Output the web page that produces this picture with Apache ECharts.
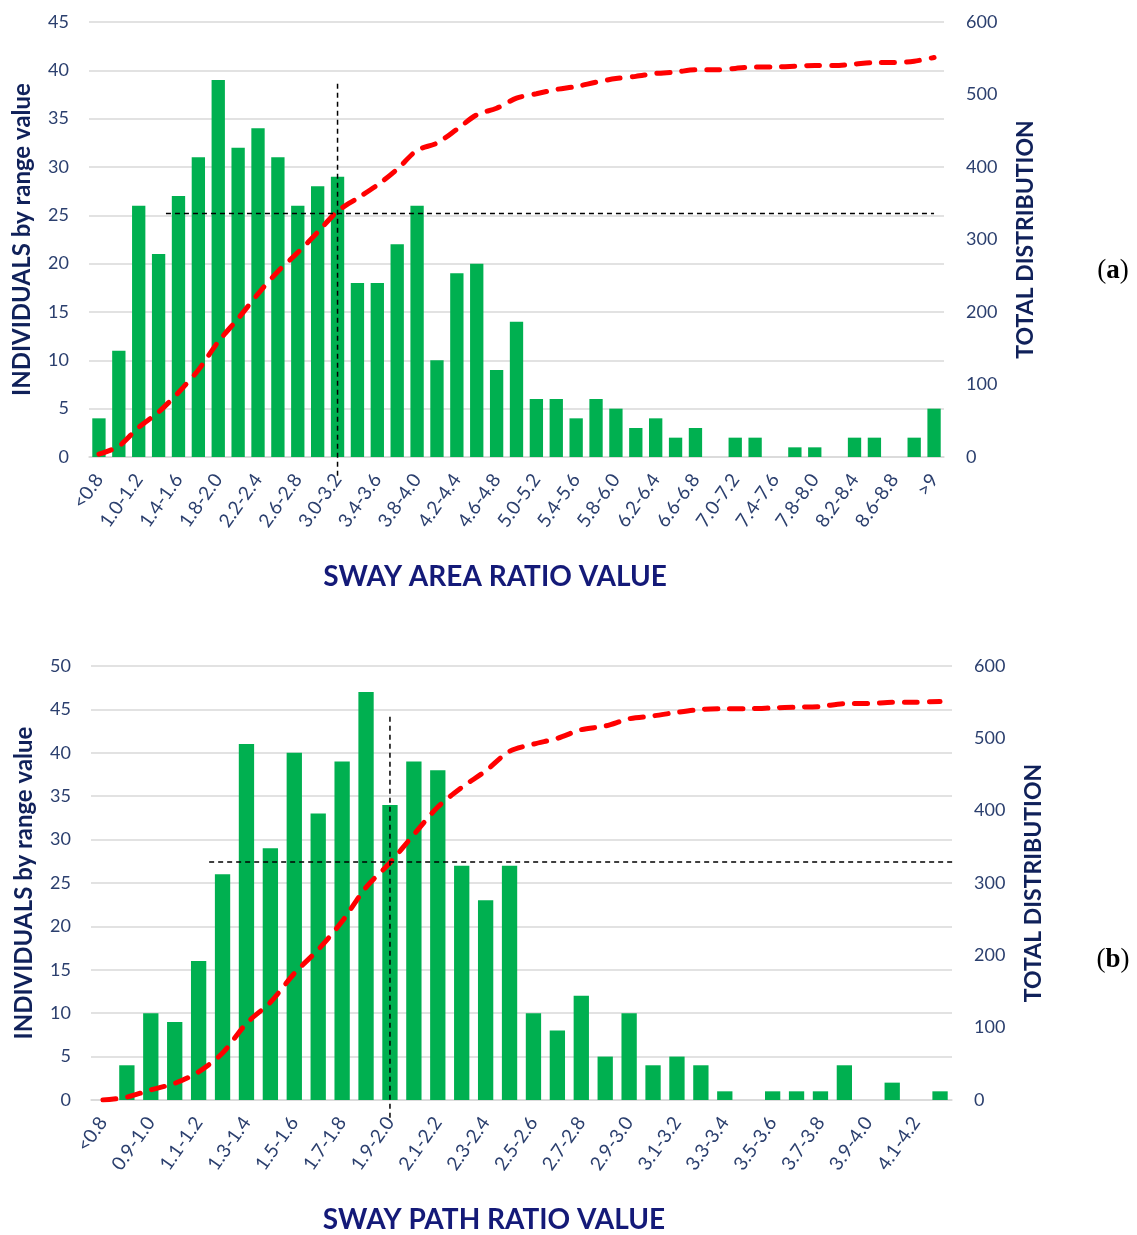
<!DOCTYPE html>
<html>
<head>
<meta charset="utf-8">
<title>Sway ratio distributions</title>
<script src="https://cdn.jsdelivr.net/npm/echarts@6/dist/echarts.min.js"></script>
<style>
  html, body { margin: 0; padding: 0; background: #fff; }
  #chart { width: 1137px; height: 1235px; }
</style>
</head>
<body>
<div id="chart"></div>
<script>
// (a) sway area ratio
var areaCategories = ['<0.8', '0.8-1.0', '1.0-1.2', '1.2-1.4', '1.4-1.6', '1.6-1.8', '1.8-2.0', '2.0-2.2',
  '2.2-2.4', '2.4-2.6', '2.6-2.8', '2.8-3.0', '3.0-3.2', '3.2-3.4', '3.4-3.6', '3.6-3.8', '3.8-4.0',
  '4.0-4.2', '4.2-4.4', '4.4-4.6', '4.6-4.8', '4.8-5.0', '5.0-5.2', '5.2-5.4', '5.4-5.6', '5.6-5.8',
  '5.8-6.0', '6.0-6.2', '6.2-6.4', '6.4-6.6', '6.6-6.8', '6.8-7.0', '7.0-7.2', '7.2-7.4', '7.4-7.6',
  '7.6-7.8', '7.8-8.0', '8.0-8.2', '8.2-8.4', '8.4-8.6', '8.6-8.8', '8.8-9.0', '>9'];
var areaCounts = [4, 11, 26, 21, 27, 31, 39, 32, 34, 31, 26, 28, 29, 18, 18, 22, 26, 10, 19, 20, 9, 14,
  6, 6, 4, 6, 5, 3, 4, 2, 3, 0, 2, 2, 0, 1, 1, 0, 2, 2, 0, 2, 5];
var areaTotal = [4, 15, 41, 62, 89, 120, 159, 191, 225, 256, 282, 310, 339, 357, 375, 397, 423, 433,
  452, 472, 481, 495, 501, 507, 511, 517, 522, 525, 529, 531, 534, 534, 536, 538, 538, 539, 540, 540,
  542, 544, 544, 546, 551];
// reference lines, [category index, total]
var areaVLine = [[12, 515], [12, -26]];
var areaHLine = [[3.37, 336], [42.0, 336]];

// (b) sway path ratio
var pathCategories = ['<0.8', '0.8-0.9', '0.9-1.0', '1.0-1.1', '1.1-1.2', '1.2-1.3', '1.3-1.4', '1.4-1.5',
  '1.5-1.6', '1.6-1.7', '1.7-1.8', '1.8-1.9', '1.9-2.0', '2.0-2.1', '2.1-2.2', '2.2-2.3', '2.3-2.4',
  '2.4-2.5', '2.5-2.6', '2.6-2.7', '2.7-2.8', '2.8-2.9', '2.9-3.0', '3.0-3.1', '3.1-3.2', '3.2-3.3',
  '3.3-3.4', '3.4-3.5', '3.5-3.6', '3.6-3.7', '3.7-3.8', '3.8-3.9', '3.9-4.0', '4.0-4.1', '4.1-4.2', '>4.2'];
var pathCounts = [0, 4, 10, 9, 16, 26, 41, 29, 40, 33, 39, 47, 34, 39, 38, 27, 23, 27, 10, 8, 12, 5, 10,
  4, 5, 4, 1, 0, 1, 1, 1, 4, 0, 2, 0, 1];
var pathTotal = [0, 4, 14, 23, 39, 65, 106, 135, 175, 208, 247, 294, 328, 367, 405, 432, 455, 482, 492,
  500, 512, 517, 527, 531, 536, 540, 541, 541, 542, 543, 544, 548, 548, 550, 550, 551];
var pathVLine = [[12, 530], [12, -30]];
var pathHLine = [[4.44, 329], [36.5, 329]];

var FONT = 'Lato';
var TICK = '#2b3f6e';
var NAVY = '#10215a';
var GREEN = '#00b050';
var GRID = '#d9d9d9';

function catAxis(gridIndex, cats) {
  return {
    type: 'category', gridIndex: gridIndex, data: cats, boundaryGap: true,
    axisLine: { lineStyle: { color: GRID, width: 1.5 } },
    axisTick: { interval: 0, length: 6, lineStyle: { color: GRID, width: 1.5 } },
    axisLabel: { interval: 1, rotate: 55, margin: 19, color: TICK, fontFamily: FONT, fontSize: 19 },
    splitLine: { show: false }
  };
}
// hidden numeric axis laid over the categories, used for the dashed guides
function guideAxis(gridIndex, n) {
  return { type: 'value', gridIndex: gridIndex, min: -0.5, max: n - 0.5, show: false };
}
function leftAxis(gridIndex, max) {
  return {
    type: 'value', gridIndex: gridIndex, min: 0, max: max, interval: 5, position: 'left',
    name: 'INDIVIDUALS by range value', nameLocation: 'middle', nameRotate: 90, nameGap: 55,
    nameTextStyle: { color: NAVY, fontFamily: FONT, fontWeight: 'bold', fontSize: 24 },
    axisLine: { show: false }, axisTick: { show: false },
    axisLabel: { color: TICK, fontFamily: FONT, fontSize: 18, margin: 20 },
    splitLine: { lineStyle: { color: GRID, width: 1.5 } }
  };
}
function rightAxis(gridIndex) {
  return {
    type: 'value', gridIndex: gridIndex, min: 0, max: 600, interval: 100, position: 'right',
    name: 'TOTAL DISTRIBUTION', nameLocation: 'middle', nameRotate: 90, nameGap: 70,
    nameTextStyle: { color: NAVY, fontFamily: FONT, fontWeight: 'bold', fontSize: 23 },
    axisLine: { show: false }, axisTick: { show: false },
    axisLabel: { color: TICK, fontFamily: FONT, fontSize: 18, margin: 22 },
    splitLine: { show: false }
  };
}
function guide(xIdx, yIdx, pts) {
  return {
    type: 'line', xAxisIndex: xIdx, yAxisIndex: yIdx, data: pts, clip: false,
    symbol: 'none', silent: true, z: 5,
    lineStyle: { color: '#000', width: 1.5, type: [5, 4] }
  };
}
function totalLine(xIdx, yIdx, data) {
  return {
    type: 'line', xAxisIndex: xIdx, yAxisIndex: yIdx, data: data, smooth: 0.3,
    symbol: 'none', z: 4,
    lineStyle: { color: '#ff0000', width: 5, type: [13, 12], cap: 'round' }
  };
}

var chart = echarts.init(document.getElementById('chart'));
chart.setOption({
  animation: false,
  backgroundColor: '#fff',
  grid: [
    { left: 89, top: 22, width: 855, height: 435 },
    { left: 91, top: 666, width: 861, height: 434 }
  ],
  xAxis: [
    catAxis(0, areaCategories),
    catAxis(1, pathCategories),
    guideAxis(0, areaCategories.length),
    guideAxis(1, pathCategories.length)
  ],
  yAxis: [leftAxis(0, 45), rightAxis(0), leftAxis(1, 50), rightAxis(1)],
  graphic: [
    { type: 'text', x: 495, y: 577, style: { text: 'SWAY AREA RATIO VALUE', fill: '#141a78',
      font: 'bold 28px ' + FONT, textAlign: 'center', textVerticalAlign: 'middle' } },
    { type: 'text', x: 494, y: 1220, style: { text: 'SWAY PATH RATIO VALUE', fill: '#141a78',
      font: 'bold 28px ' + FONT, textAlign: 'center', textVerticalAlign: 'middle' } },
    { type: 'text', x: 1113, y: 271, style: { text: '({b|a})', fill: '#000',
      font: '27px "Liberation Serif"', textAlign: 'center', textVerticalAlign: 'middle',
      rich: { b: { fontWeight: 'bold', fontSize: 27, fontFamily: 'Liberation Serif' } } } },
    { type: 'text', x: 1113, y: 960, style: { text: '({b|b})', fill: '#000',
      font: '27px "Liberation Serif"', textAlign: 'center', textVerticalAlign: 'middle',
      rich: { b: { fontWeight: 'bold', fontSize: 27, fontFamily: 'Liberation Serif' } } } }
  ],
  series: [
    { type: 'bar', xAxisIndex: 0, yAxisIndex: 0, data: areaCounts, barCategoryGap: '33%',
      itemStyle: { color: GREEN } },
    totalLine(0, 1, areaTotal),
    guide(2, 1, areaVLine),
    guide(2, 1, areaHLine),
    { type: 'bar', xAxisIndex: 1, yAxisIndex: 2, data: pathCounts, barCategoryGap: '36%',
      itemStyle: { color: GREEN } },
    totalLine(1, 3, pathTotal),
    guide(3, 3, pathVLine),
    guide(3, 3, pathHLine)
  ]
});
</script>
</body>
</html>
